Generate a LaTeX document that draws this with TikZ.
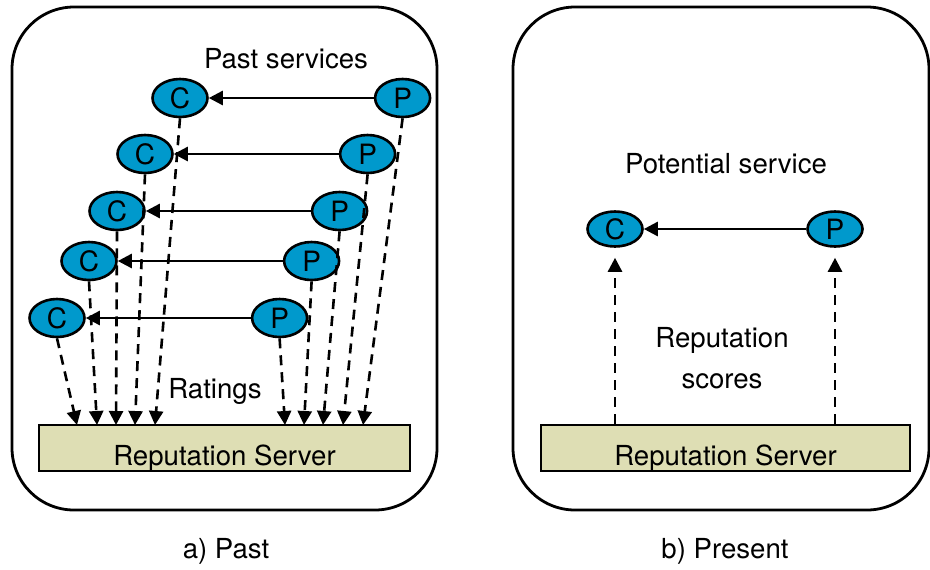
\documentclass[tikz,border=0pt]{standalone}
\usepackage{fontspec}
\setmainfont{TeX Gyre Heros}
\usepackage{tikz}
\usetikzlibrary{shapes.geometric, arrows.meta, positioning}
\usepackage{xcolor}

\definecolor{partyblue}{RGB}{0,153,204}
\definecolor{serverkhaki}{RGB}{222,222,180}

\begin{document}
\begin{tikzpicture}[
    x=0.5pt, y=-0.5pt,
    party/.style={ellipse, draw, line width=1.3pt, fill=partyblue, minimum width=27.5pt, minimum height=19pt, inner sep=0pt, font=\fontsize{14}{16}\selectfont},
    server/.style={draw, line width=1.3pt, fill=serverkhaki, minimum width=185.5pt, minimum height=23pt, inner sep=0pt, text height=17pt, text depth=0pt, font=\fontsize{13.8}{16}\selectfont},
    panel/.style={draw, line width=1.4pt, rounded corners=31pt},
    service/.style={line width=1.3pt, -{Triangle[width=7pt,length=7pt]}},
    rating/.style={line width=1.3pt, dash pattern=on 5pt off 3.5pt, -{Triangle[width=7pt,length=7pt]}},
    caption/.style={anchor=base, align=center, font=\fontsize{13.8}{16}\selectfont}
]
\useasboundingbox (0,0) rectangle (930,569);

% a) past
\draw[panel] (12,7) rectangle (437,510);

\node[caption] (pasttitle) at (286,68) {Past services};

\node[party] (c1) at (180,98) {C};
\node[party] (c2) at (145,154) {C};
\node[party] (c3) at (117,211) {C};
\node[party] (c4) at (89,261) {C};
\node[party] (c5) at (57,318) {C};

\node[party, right=82.5pt of c1] (p1) {P};
\node[party, right=82.5pt of c2] (p2) {P};
\node[party, right=82.5pt of c3] (p3) {P};
\node[party, right=82.5pt of c4] (p4) {P};
\node[party, right=82.5pt of c5] (p5) {P};

\node[server] (srvpast) at (224.5,448) {Reputation Server};
\node[caption] (ratings) at (215,398) {Ratings};
\node[caption] (capa) at (226,558) {a) Past};

\coordinate (rc5) at (77,425);
\coordinate (rc4) at (97,425);
\coordinate (rc3) at (116,425);
\coordinate (rc2) at (135,425);
\coordinate (rc1) at (155,425);
\coordinate (rp5) at (285,425);
\coordinate (rp4) at (304,425);
\coordinate (rp3) at (323,425);
\coordinate (rp2) at (343,425);
\coordinate (rp1) at (363,425);

\draw[service] (p1) -- (c1);
\draw[service] (p2) -- (c2);
\draw[service] (p3) -- (c3);
\draw[service] (p4) -- (c4);
\draw[service] (p5) -- (c5);

\draw[rating] (c1.south) -- (rc1);
\draw[rating] (c2.south) -- (rc2);
\draw[rating] (c3.south) -- (rc3);
\draw[rating] (c4.south) -- (rc4);
\draw[rating] (c5.south) -- (rc5);
\draw[rating] (p1.south) -- (rp1);
\draw[rating] (p2.south) -- (rp2);
\draw[rating] (p3.south) -- (rp3);
\draw[rating] (p4.south) -- (rp4);
\draw[rating] (p5.south) -- (rp5);

% b) present
\draw[panel] (513,7) rectangle (929,510);

\node[caption] (nowtitle) at (726,173) {Potential service};
\node[party, minimum height=17.5pt] (cnow) at (615,229) {C};
\node[party, minimum height=17.5pt] (pnow) at (835,229) {P};

\node[server, minimum width=184.5pt] (srvnow) at (725.5,448) {Reputation Server};
\node[caption] (scores) at (722,347) {Reputation};
\node[caption] (scores2) at (722,388) {scores};
\node[caption] (capb) at (725,558) {b) Present};

\draw[service] (pnow) -- (cnow);
\draw[rating, shorten >=5pt] (cnow |- srvnow.north) -- (cnow.south);
\draw[rating, shorten >=5pt] (pnow |- srvnow.north) -- (pnow.south);

\end{tikzpicture}
\end{document}
